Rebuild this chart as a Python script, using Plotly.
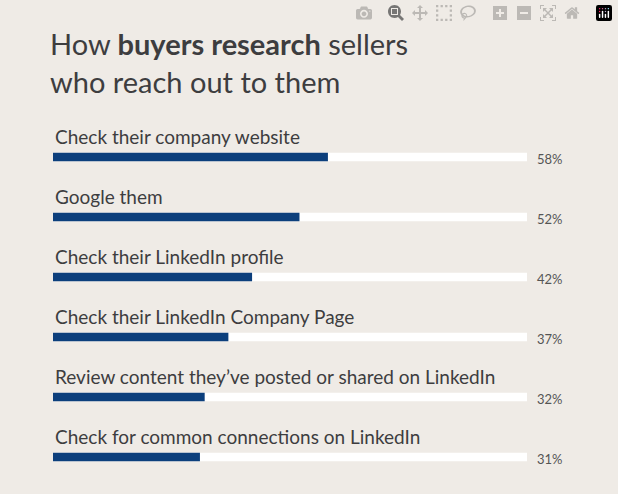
import plotly.graph_objects as go

categories = [
    "Check their company website",
    "Google them",
    "Check their LinkedIn profile",
    "Check their LinkedIn Company Page",
    "Review content they\u2019ve posted or shared on LinkedIn",
    "Check for common connections on LinkedIn",
]
values = [58, 52, 42, 37, 32, 31]
pos = list(range(len(categories)))

bg = "#efebe6"
blue = "#0c3f7c"
txt = "#3d3d3f"

fig = go.Figure()
fig.add_trace(go.Bar(x=[100] * len(values), y=pos, orientation="h", width=0.14,
                     marker=dict(color="white", line_width=0), hoverinfo="skip"))
fig.add_trace(go.Bar(x=values, y=pos, orientation="h", width=0.14,
                     marker=dict(color=blue, line_width=0)))

for p, c, v in zip(pos, categories, values):
    fig.add_annotation(x=0, y=p, text=c, xanchor="left", yanchor="bottom", yshift=7,
                       showarrow=False, font=dict(size=19, color=txt))
    fig.add_annotation(x=100, y=p, text=f"{v}%", xanchor="left", yanchor="middle", xshift=8,
                       yshift=-2, showarrow=False, font=dict(size=13, color="#555"))

fig.add_annotation(x=-5 / 474, y=1, xref="paper", yref="paper", xanchor="left", yanchor="bottom",
                   yshift=26, align="left", showarrow=False,
                   text="How <b>buyers research</b> sellers<br>who reach out to them",
                   font=dict(size=29, color=txt))

fig.update_layout(
    width=618, height=494, barmode="overlay", showlegend=False,
    paper_bgcolor=bg, plot_bgcolor=bg,
    margin=dict(l=53, r=91, t=127, b=7),
    font=dict(family="Lato, Open Sans, sans-serif"),
    xaxis=dict(range=[0, 100], visible=False),
    yaxis=dict(range=[5.5, -0.5], visible=False),
)
fig.write_html("out.html", post_script="document.body.style.margin='0';document.body.style.background='#efebe6';")
